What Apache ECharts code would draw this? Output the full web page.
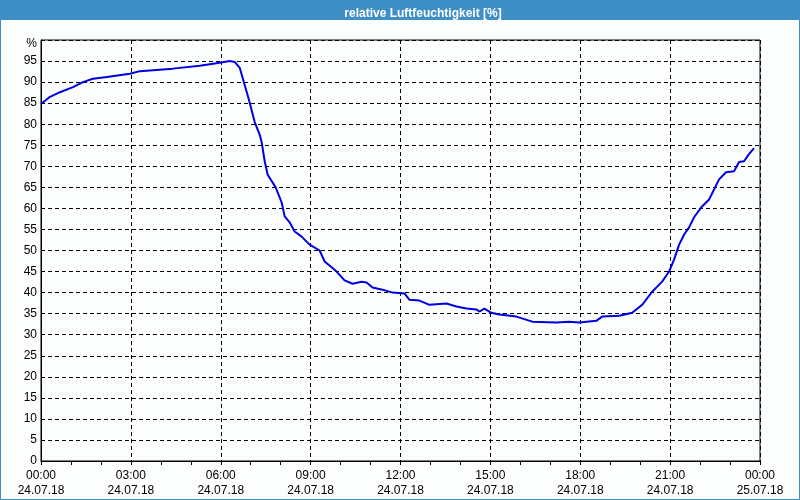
<!DOCTYPE html>
<html>
<head>
<meta charset="utf-8">
<script src="https://cdn.jsdelivr.net/npm/echarts@6/dist/echarts.min.js"></script>
<style>
html,body{margin:0;padding:0;background:#fcfdfd;}
#c{width:800px;height:500px;}
</style>
</head>
<body>
<div id="c"></div>
<script>
// minutes since 24.07.18 00:00
var timeMinutes = [0, 18, 38, 64, 84, 104, 132, 178, 198, 264, 318, 358, 378, 388, 398, 416, 428, 438, 442, 448, 454, 470, 482, 488, 498, 508, 522, 538, 558, 568, 582, 592, 608, 624, 642, 652, 664, 684, 704, 728, 738, 758, 778, 812, 832, 852, 872, 878, 888, 902, 918, 952, 984, 1032, 1058, 1078, 1112, 1124, 1158, 1184, 1204, 1224, 1244, 1258, 1268, 1278, 1288, 1298, 1308, 1322, 1338, 1348, 1358, 1372, 1388, 1398, 1408, 1418, 1428];
var humidity = [84.8, 86.5, 87.6, 88.8, 90.0, 90.8, 91.2, 92.0, 92.6, 93.2, 93.9, 94.6, 95.0, 94.8, 93.4, 86.0, 80.5, 77.5, 75.7, 71.2, 68.0, 65.0, 61.4, 58.1, 56.7, 54.5, 53.3, 51.4, 50.0, 47.4, 46.0, 45.0, 42.9, 42.1, 42.6, 42.4, 41.2, 40.7, 40.0, 39.8, 38.3, 38.1, 37.1, 37.4, 36.7, 36.2, 36.0, 35.5, 36.2, 35.2, 34.8, 34.3, 33.1, 32.9, 33.1, 32.9, 33.3, 34.3, 34.5, 35.2, 37.1, 40.2, 42.6, 45.0, 47.9, 51.4, 53.8, 55.5, 57.9, 60.2, 62.1, 64.5, 66.9, 68.6, 68.8, 71.0, 71.2, 72.9, 74.3];
var xTickTimes = ['00:00', '03:00', '06:00', '09:00', '12:00', '15:00', '18:00', '21:00', '00:00'];
var xTickDates = ['24.07.18', '24.07.18', '24.07.18', '24.07.18', '24.07.18', '24.07.18', '24.07.18', '24.07.18', '25.07.18'];
var titleText = 'relative Luftfeuchtigkeit [%]';
var yUnit = '%';

var pts = timeMinutes.map(function (t, i) { return [t, humidity[i]]; });
var chart = echarts.init(document.getElementById('c'), null, {renderer: 'canvas'});
var font = '"Liberation Sans Narrow", "Liberation Sans", sans-serif';
chart.setOption({
  backgroundColor: '#fcfdfd',
  animation: false,
  title: {
    text: titleText, left: 418, top: 3, textAlign: 'center',
    textStyle: {color: '#ffffff', fontSize: 12, fontWeight: 'bold', fontFamily: '"Liberation Sans", sans-serif'}
  },
  graphic: [
    {type: 'rect', z: -1, shape: {x: 0, y: 0, width: 800, height: 20}, style: {fill: '#3d8fc6'}},
    {type: 'rect', z: -1, shape: {x: 0.5, y: 0.5, width: 799, height: 499}, style: {fill: null, stroke: '#3d8fc6', lineWidth: 1}}
  ],
  grid: {left: 41, right: 40, top: 40, bottom: 39, show: true, borderColor: '#000', borderWidth: 1, backgroundColor: 'transparent'},
  xAxis: {
    type: 'value', min: 0, max: 1440, interval: 180,
    axisLine: {show: true, lineStyle: {color: '#000', width: 1}},
    axisTick: {show: true, length: 4, lineStyle: {color: '#000'}},
    minorTick: {show: true, splitNumber: 3, length: 4, lineStyle: {color: '#000'}},
    splitLine: {show: true, lineStyle: {color: '#000', type: [4, 3], width: 1}},
    axisLabel: {
      color: '#000', fontSize: 12, fontFamily: font, lineHeight: 15, margin: 7,
      formatter: function (v) { var i = Math.round(v / 180); return xTickTimes[i] + '\n' + xTickDates[i]; }
    }
  },
  yAxis: {
    type: 'value', min: 0, max: 100, interval: 5,
    axisLine: {show: true, lineStyle: {color: '#000', width: 1}},
    axisTick: {show: false},
    splitLine: {show: true, lineStyle: {color: '#000', type: [4, 3], width: 1}},
    axisLabel: {
      color: '#000', fontSize: 12, fontFamily: font, margin: 4,
      formatter: function (v) { return v === 100 ? '{u|' + yUnit + '}' : String(v); },
      rich: {u: {fontSize: 12, fontFamily: font, color: '#000', padding: [8, 0, 0, 0]}}
    }
  },
  series: [{
    type: 'line', data: pts, showSymbol: false, symbol: 'none',
    lineStyle: {color: '#0000e0', width: 2},
    z: 5
  }]
});
</script>
</body>
</html>
